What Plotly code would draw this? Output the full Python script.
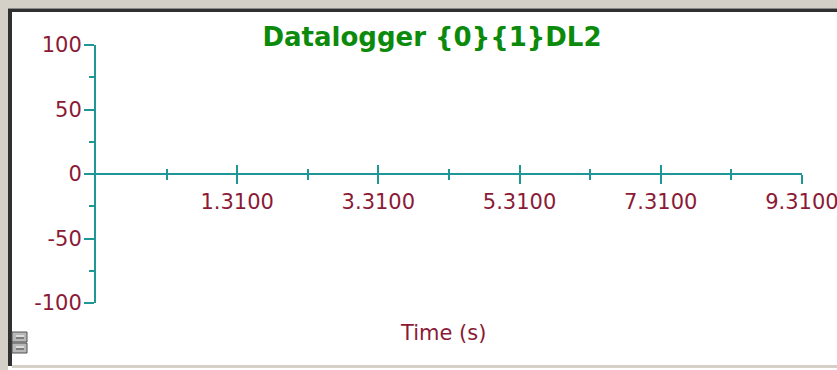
import plotly.graph_objects as go

# Datalogger channel DL2 (no samples recorded yet)
time_s = []
values = []

# Axis definitions
x_range = [-0.69, 9.312]
x_major_ticks = [1.31, 3.31, 5.31, 7.31, 9.31]
x_tick_labels = ["1.3100", "3.3100", "5.3100", "7.3100", "9.3100"]
x_minor_start = 0.31
y_range = [-100, 100]
y_major_ticks = [-100, -50, 0, 50, 100]
y_tick_labels = ["-100", "-50", "0", "50", "100"]

TITLE = "Datalogger {0}{1}DL2"
X_TITLE = "Time (s)"

W, H = 837, 370
L, R, T, B = 96, 802, 45, 303

AXIS = "#1f9797"
LABEL = "#8a1a36"
FONT = "DejaVu Sans"


def px(x):
    return (x - L) / (R - L)


def py(y):
    return (B - y) / (B - T)


fig = go.Figure()
fig.add_trace(go.Scatter(x=time_s, y=values, mode="lines", xaxis="x", yaxis="y",
                         line=dict(color="#1f9797"), showlegend=False))
fig.add_trace(go.Scatter(x=time_s, y=values, mode="lines", xaxis="x2", yaxis="y",
                         showlegend=False))

common_x = dict(
    range=x_range, anchor="free", position=0.5,
    showgrid=False, zeroline=False, showline=True,
    linecolor=AXIS, linewidth=2,
    tickvals=x_major_ticks, tickcolor=AXIS, tickwidth=1.5,
    ticklabeloverflow="allow", automargin=False,
)

fig.update_layout(
    width=W, height=H,
    margin=dict(l=L, r=W - R, t=T, b=H - B, pad=0, autoexpand=False),
    paper_bgcolor="white", plot_bgcolor="white",
    showlegend=False,
    title=dict(text=TITLE, x=432 / W, xanchor="center", y=1 - 37 / H,
               yanchor="middle", automargin=False,
               font=dict(family=FONT, size=26, color="#0b8a0b", weight="bold")),
    xaxis=dict(
        **common_x,
        ticktext=x_tick_labels, ticks="outside", ticklen=9,
        tickfont=dict(family=FONT, size=21, color=LABEL),
        minor=dict(ticks="outside", ticklen=5, tick0=x_minor_start, dtick=2,
                   tickcolor=AXIS, tickwidth=1.5, showgrid=False),
    ),
    xaxis2=dict(
        **common_x,
        overlaying="x", ticks="inside", ticklen=8, showticklabels=False,
        minor=dict(ticks="inside", ticklen=4, tick0=x_minor_start, dtick=2,
                   tickcolor=AXIS, tickwidth=1.5, showgrid=False),
    ),
    yaxis=dict(
        range=y_range, showgrid=False, zeroline=False, showline=True,
        linecolor=AXIS, linewidth=2, automargin=False,
        tickvals=y_major_ticks, ticktext=y_tick_labels,
        ticks="outside", ticklen=10, tickcolor=AXIS, tickwidth=1.5,
        tickfont=dict(family=FONT, size=21, color=LABEL),
        ticklabelstandoff=-2,
        minor=dict(ticks="outside", ticklen=5, dtick=25, tick0=0,
                   tickcolor=AXIS, tickwidth=1.5, showgrid=False),
    ),
)

# Axis caption at the bottom of the panel
fig.add_annotation(text=X_TITLE, xref="paper", yref="paper",
                   x=px(443), y=py(333), xanchor="center", yanchor="middle",
                   showarrow=False, font=dict(family=FONT, size=21, color=LABEL))

# Window frame: light bevel, dark inner edge, bottom rule
shapes = []
frame_light = "#d4d0c8"
shapes.append(dict(type="rect", xref="paper", yref="paper", layer="above",
                   x0=px(0), x1=px(W), y0=py(0), y1=py(8),
                   fillcolor=frame_light, line=dict(width=0)))
shapes.append(dict(type="rect", xref="paper", yref="paper", layer="above",
                   x0=px(0), x1=px(8), y0=py(0), y1=py(H),
                   fillcolor=frame_light, line=dict(width=0)))
shapes.append(dict(type="rect", xref="paper", yref="paper", layer="above",
                   x0=px(8), x1=px(W), y0=py(8), y1=py(12),
                   fillcolor="#303030", line=dict(width=0)))
shapes.append(dict(type="rect", xref="paper", yref="paper", layer="above",
                   x0=px(8), x1=px(12), y0=py(8), y1=py(366),
                   fillcolor="#303030", line=dict(width=0)))
shapes.append(dict(type="rect", xref="paper", yref="paper", layer="above",
                   x0=px(8), x1=px(W), y0=py(8), y1=py(9),
                   fillcolor="#8a8a8a", line=dict(width=0)))
shapes.append(dict(type="rect", xref="paper", yref="paper", layer="above",
                   x0=px(12), x1=px(W), y0=py(365), y1=py(368),
                   fillcolor=frame_light, line=dict(width=0)))

# Small split/toggle button in the lower-left corner
for top in (332, 343):
    shapes.append(dict(type="rect", xref="paper", yref="paper", layer="above",
                       x0=px(12), x1=px(27), y0=py(top), y1=py(top + 10),
                       fillcolor="#b8b8b8", line=dict(color="#505050", width=1)))
    shapes.append(dict(type="line", xref="paper", yref="paper", layer="above",
                       x0=px(16), x1=px(24), y0=py(top + 4), y1=py(top + 4),
                       line=dict(color="#ffffff", width=1)))
    shapes.append(dict(type="line", xref="paper", yref="paper", layer="above",
                       x0=px(16), x1=px(24), y0=py(top + 6), y1=py(top + 6),
                       line=dict(color="#404040", width=1)))
fig.update_layout(shapes=shapes)

fig.write_html("out.html")
